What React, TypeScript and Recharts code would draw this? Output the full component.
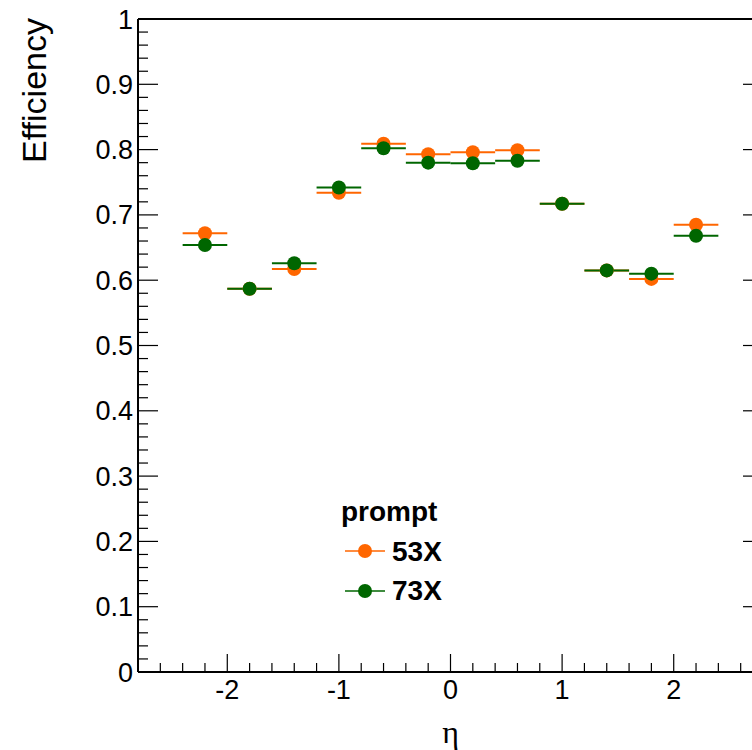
import React from "react";
import { ScatterChart, Scatter, XAxis, YAxis, ErrorBar, Legend, Label } from "recharts";

// eta bin centres, each bin is 0.4 wide
const etaBins = [-2.2, -1.8, -1.4, -1.0, -0.6, -0.2, 0.2, 0.6, 1.0, 1.4, 1.8, 2.2];
const etaHalfWidth = 0.2;
const eff53X = [0.672, 0.587, 0.617, 0.734, 0.809, 0.793, 0.796, 0.799, 0.717, 0.615, 0.602, 0.685];
const eff73X = [0.654, 0.587, 0.626, 0.742, 0.802, 0.780, 0.779, 0.783, 0.717, 0.615, 0.610, 0.668];

const xMajorTicks = [-2, -1, 0, 1, 2];
const yMajorTicks = [0, 0.1, 0.2, 0.3, 0.4, 0.5, 0.6, 0.7, 0.8, 0.9, 1];

const SERIES = [
  { name: "53X", values: eff53X, color: "#ff6600" },
  { name: "73X", values: eff73X, color: "#006600" },
];

const FONT = "'Liberation Sans', Arial, Helvetica, sans-serif";
const X_DOMAIN: [number, number] = [-2.8, 2.8];
const Y_DOMAIN: [number, number] = [0, 1];

// minor ticks: 5 divisions per major step
const subdivide = (lo: number, hi: number, step: number) => {
  const out: number[] = [];
  const n = Math.round((hi - lo) / step);
  for (let i = 0; i <= n; i++) out.push(Number((lo + i * step).toFixed(4)));
  return out;
};
const xTicks = subdivide(X_DOMAIN[0], X_DOMAIN[1], 0.2);
const yTicks = subdivide(Y_DOMAIN[0], Y_DOMAIN[1], 0.02);

const isMajor = (v: number, majors: number[]) => majors.some((m) => Math.abs(m - v) < 1e-6);

const TICK = { stroke: "#000", strokeWidth: 1.2 };

const BottomTick = (props: any) => {
  const { x, y, payload } = props;
  const major = isMajor(payload.value, xMajorTicks);
  return (
    <g>
      <line x1={x} y1={y} x2={x} y2={y - (major ? 18 : 9)} {...TICK} />
      {major && (
        <text x={x} y={y + 27} textAnchor="middle" fontFamily={FONT} fontSize={27} fill="#000">
          {payload.value}
        </text>
      )}
    </g>
  );
};

const TopTick = (props: any) => {
  const { x, y, payload } = props;
  const major = isMajor(payload.value, xMajorTicks);
  return <line x1={x} y1={y} x2={x} y2={y + (major ? 18 : 9)} {...TICK} />;
};

const LeftTick = (props: any) => {
  const { x, y, payload } = props;
  const major = isMajor(payload.value, yMajorTicks);
  return (
    <g>
      <line x1={x} y1={y} x2={x + (major ? 20 : 10)} y2={y} {...TICK} />
      {major && (
        <text x={x - 5} y={y + 9.5} textAnchor="end" fontFamily={FONT} fontSize={27} fill="#000">
          {payload.value}
        </text>
      )}
    </g>
  );
};

const RightTick = (props: any) => {
  const { x, y, payload } = props;
  const major = isMajor(payload.value, yMajorTicks);
  return <line x1={x} y1={y} x2={x - (major ? 20 : 10)} y2={y} {...TICK} />;
};

const Dot = (color: string) => (props: any) => (
  <circle cx={props.cx} cy={props.cy} r={7} fill={color} />
);

const renderLegend = () => (
  <div style={{ fontFamily: FONT, fontWeight: "bold", fontSize: 28, lineHeight: "39.5px", color: "#000" }}>
    <div>prompt</div>
    {SERIES.map((s) => (
      <div key={s.name} style={{ display: "flex", alignItems: "center" }}>
        <svg width={42} height={16} style={{ marginLeft: 4 }}>
          <line x1={0} y1={8} x2={40} y2={8} stroke={s.color} strokeWidth={1.5} />
          <circle cx={20} cy={8} r={7} fill={s.color} />
        </svg>
        <span style={{ marginLeft: 5 }}>{s.name}</span>
      </div>
    ))}
  </div>
);

export default function App() {
  const datasets = SERIES.map((s) => ({
    ...s,
    data: etaBins.map((eta, i) => ({ eta, eff: s.values[i], etaErr: etaHalfWidth })),
  }));

  return (
    <div
      style={{
        position: "fixed",
        left: 0,
        top: 0,
        width: 752,
        height: 750,
        overflow: "hidden",
        background: "#fff",
      }}
    >
      <ScatterChart width={800} height={750} margin={{ top: 18, right: 36, left: 0, bottom: 0 }}>
        <XAxis
          type="number"
          dataKey="eta"
          domain={X_DOMAIN}
          ticks={xTicks}
          interval={0}
          allowDataOverflow
          height={78}
          tickSize={0}
          tickMargin={0}
          tickLine={false}
          axisLine={{ stroke: "#000", strokeWidth: 2 }}
          tick={<BottomTick />}
        >
          <Label
            content={(p: any) => {
              const vb = p.viewBox;
              return (
                <text x={vb.x + vb.width / 2} y={vb.y + 71} textAnchor="middle" fontFamily="'Liberation Serif', 'Times New Roman', serif" fontSize={32} fill="#000">
                  η
                </text>
              );
            }}
          />
        </XAxis>
        <XAxis
          xAxisId="top"
          orientation="top"
          type="number"
          domain={X_DOMAIN}
          ticks={xTicks}
          interval={0}
          allowDataOverflow
          height={1}
          tickSize={0}
          tickMargin={0}
          tickLine={false}
          axisLine={{ stroke: "#000", strokeWidth: 2 }}
          tick={<TopTick />}
        />
        <YAxis
          type="number"
          dataKey="eff"
          domain={Y_DOMAIN}
          ticks={yTicks}
          interval={0}
          allowDataOverflow
          width={138}
          tickSize={0}
          tickMargin={0}
          tickLine={false}
          axisLine={{ stroke: "#000", strokeWidth: 2 }}
          tick={<LeftTick />}
        >
          <Label
            content={(p: any) => {
              const vb = p.viewBox;
              const lx = vb.x + 46;
              const ly = vb.y - 1;
              return (
                <text x={lx} y={ly} transform={`rotate(-90, ${lx}, ${ly})`} textAnchor="end" fontFamily={FONT} fontSize={34} fill="#000">
                  Efficiency
                </text>
              );
            }}
          />
        </YAxis>
        <YAxis
          yAxisId="right"
          orientation="right"
          type="number"
          domain={Y_DOMAIN}
          ticks={yTicks}
          interval={0}
          allowDataOverflow
          width={1}
          tickSize={0}
          tickMargin={0}
          tickLine={false}
          axisLine={{ stroke: "#000", strokeWidth: 2 }}
          tick={<RightTick />}
        />
        {datasets.map((s) => (
          <Scatter
            key={s.name}
            name={s.name}
            data={s.data}
            fill={s.color}
            shape={Dot(s.color)}
            isAnimationActive={false}
          >
            <ErrorBar dataKey="etaErr" direction="x" width={0} stroke={s.color} strokeWidth={2} />
          </Scatter>
        ))}
        <Legend
          layout="horizontal"
          verticalAlign="middle"
          align="center"
          content={renderLegend}
          wrapperStyle={{ left: 341, top: 492, width: "auto" }}
        />
      </ScatterChart>
    </div>
  );
}
